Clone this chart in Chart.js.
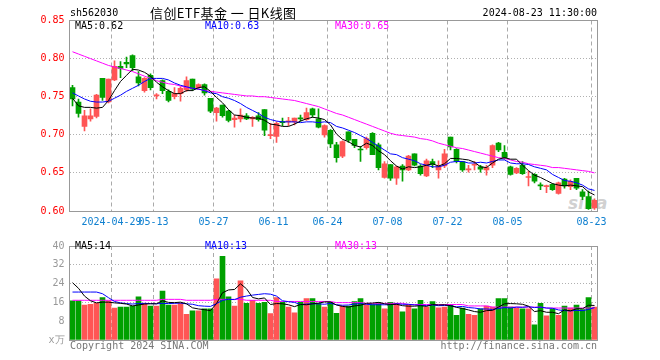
<!DOCTYPE html>
<html><head><meta charset="utf-8">
<script src="https://cdn.jsdelivr.net/npm/chart.js@4.4.1/dist/chart.umd.min.js"></script>
<style>
body{margin:0;background:#fff;width:660px;height:360px;position:relative;overflow:hidden;font-family:'DejaVu Sans Mono',monospace;}
.t{position:absolute;font-size:10px;line-height:12px;white-space:pre;}
canvas{position:absolute;left:0;}
</style></head><body>
<div class="t" style="left:568px;top:193px;font-family:'DejaVu Sans';font-weight:bold;font-style:italic;font-size:17px;line-height:20px;color:rgba(150,150,150,0.45);">sina</div>
<canvas id="pc" width="660" height="235" style="top:0"></canvas>
<canvas id="vc" width="660" height="125" style="top:235px"></canvas>
<div class="t" style="left:70px;top:7px;color:#000;">sh562030</div>
<div class="t" style="left:150px;top:4px;font-family:'Noto Sans CJK SC';font-size:13px;line-height:18px;letter-spacing:0.4px;color:#000;">信创ETF基金 一 日K线图</div>
<div class="t" style="right:63px;top:7px;color:#000;">2024-08-23 11:30:00</div>
<div class="t" id="l1" style="left:75px;top:20px;color:#000;"></div>
<div class="t" id="l2" style="left:205px;top:20px;color:#0000ff;"></div>
<div class="t" id="l3" style="left:335px;top:20px;color:#ff00ff;"></div>
<div class="t" id="v1" style="left:75px;top:240px;color:#000;"></div>
<div class="t" id="v2" style="left:205px;top:240px;color:#0000ff;"></div>
<div class="t" id="v3" style="left:335px;top:240px;color:#ff00ff;"></div>
<div class="t" style="left:70px;top:340px;color:#777;">Copyright 2024 SINA.COM</div>
<div class="t" style="right:63px;top:340px;color:#777;">http://finance.sina.com.cn</div>
<script>
const dates = [
'2024-04-18','2024-04-19','2024-04-22','2024-04-23','2024-04-24','2024-04-25','2024-04-26','2024-04-29','2024-04-30',
'2024-05-06','2024-05-07','2024-05-08','2024-05-09','2024-05-10','2024-05-13','2024-05-14','2024-05-15','2024-05-16','2024-05-17',
'2024-05-20','2024-05-21','2024-05-22','2024-05-23','2024-05-24','2024-05-27','2024-05-28','2024-05-29','2024-05-30','2024-05-31',
'2024-06-03','2024-06-04','2024-06-05','2024-06-06','2024-06-07','2024-06-11','2024-06-12','2024-06-13','2024-06-14',
'2024-06-17','2024-06-18','2024-06-19','2024-06-20','2024-06-21','2024-06-24','2024-06-25','2024-06-26','2024-06-27','2024-06-28',
'2024-07-01','2024-07-02','2024-07-03','2024-07-04','2024-07-05','2024-07-08','2024-07-09','2024-07-10','2024-07-11','2024-07-12',
'2024-07-15','2024-07-16','2024-07-17','2024-07-18','2024-07-19','2024-07-22','2024-07-23','2024-07-24','2024-07-25','2024-07-26',
'2024-07-29','2024-07-30','2024-07-31','2024-08-01','2024-08-02','2024-08-05','2024-08-06','2024-08-07','2024-08-08','2024-08-09',
'2024-08-12','2024-08-13','2024-08-14','2024-08-15','2024-08-16','2024-08-19','2024-08-20','2024-08-21','2024-08-22','2024-08-23'];
const tickDates = ['2024-04-29','2024-05-13','2024-05-27','2024-06-11','2024-06-24','2024-07-08','2024-07-22','2024-08-05','2024-08-23'];
const tickLabels = ['2024-04-29','05-13','05-27','06-11','06-24','07-08','07-22','08-05','08-23'];
const priceTicks = [0.60,0.65,0.70,0.75,0.80,0.85];
const volumeTicks = [0,8,16,24,32,40];

const open = [.762,.743,.711,.721,.724,.774,.743,.772,.790,.795,
 .804,.776,.758,.778,.751,.771,.757,.750,.754,.759,
 .773,.762,.766,.748,.729,.739,.731,.720,.721,.725,
 .721,.725,.733,.699,.698,.717,.717,.717,.722,.720,
 .734,.721,.700,.706,.687,.672,.704,.694,.681,.683,
 .702,.687,.644,.661,.643,.659,.654,.675,.659,.646,
 .665,.654,.659,.697,.681,.665,.654,.660,.658,.654,
 .660,.689,.677,.658,.650,.660,.644,.648,.634,.632,
 .635,.623,.642,.632,.643,.625,.619,.604];
const high = [.765,.747,.732,.734,.753,.774,.773,.797,.796,.802,
 .805,.783,.775,.780,.754,.772,.759,.762,.763,.776,
 .773,.767,.767,.748,.736,.739,.732,.726,.734,.728,
 .724,.729,.733,.715,.717,.722,.723,.722,.726,.735,
 .735,.734,.713,.707,.690,.692,.704,.694,.685,.697,
 .703,.689,.665,.661,.659,.661,.673,.675,.661,.668,
 .668,.666,.681,.697,.682,.665,.660,.665,.660,.660,
 .687,.690,.686,.659,.657,.665,.652,.649,.637,.634,
 .636,.638,.643,.641,.643,.628,.626,.616];
const low = [.738,.723,.705,.718,.722,.745,.742,.771,.775,.788,
 .784,.764,.756,.759,.747,.754,.743,.747,.744,.757,
 .758,.760,.752,.729,.718,.723,.717,.710,.717,.720,
 .711,.718,.699,.695,.690,.712,.712,.713,.718,.719,
 .723,.709,.697,.683,.664,.670,.690,.683,.665,.681,
 .674,.654,.643,.640,.635,.639,.653,.659,.647,.645,
 .657,.643,.657,.680,.663,.652,.651,.654,.651,.647,
 .657,.678,.668,.647,.649,.648,.633,.637,.628,.624,
 .627,.622,.630,.628,.628,.615,.602,.602];
const close = [.747,.728,.725,.725,.752,.749,.773,.790,.787,.793,
 .788,.768,.774,.762,.752,.758,.745,.754,.761,.771,
 .760,.766,.755,.731,.735,.725,.719,.722,.726,.721,
 .723,.720,.706,.700,.715,.716,.718,.722,.721,.729,
 .726,.710,.712,.688,.670,.691,.693,.686,.680,.695,
 .674,.657,.662,.643,.658,.654,.672,.660,.649,.666,
 .661,.659,.675,.684,.665,.654,.655,.661,.655,.657,
 .686,.680,.670,.648,.656,.649,.645,.639,.633,.633,
 .628,.637,.633,.639,.630,.619,.603,.614];
const ma5 = [.748,.738,.736,.736,.735,.736,.745,.758,.770,.778,
 .786,.785,.782,.777,.769,.763,.758,.754,.754,.758,
 .758,.762,.763,.757,.749,.742,.733,.726,.725,.723,
 .722,.722,.719,.714,.713,.711,.711,.714,.718,.721,
 .723,.722,.720,.713,.701,.694,.691,.686,.684,.689,
 .686,.679,.674,.666,.659,.655,.658,.657,.658,.660,
 .662,.659,.662,.669,.669,.668,.667,.664,.658,.657,
 .663,.668,.670,.668,.668,.660,.653,.647,.644,.640,
 .636,.634,.633,.634,.633,.632,.625,.621];
const ma10 = [.755,.751,.747,.744,.743,.743,.744,.748,.752,.757,
 .761,.765,.770,.774,.774,.774,.772,.768,.765,.763,
 .761,.760,.758,.755,.754,.750,.748,.745,.741,.736,
 .732,.728,.723,.720,.718,.717,.717,.717,.716,.717,
 .717,.716,.717,.716,.711,.709,.706,.703,.699,.695,
 .690,.685,.680,.675,.674,.670,.668,.666,.662,.660,
 .658,.658,.660,.664,.665,.665,.663,.663,.664,.663,
 .665,.667,.667,.663,.662,.662,.661,.658,.656,.654,
 .648,.644,.640,.639,.637,.634,.629,.627];
const ma30 = [.809,.806,.803,.800,.797,.794,.791,.789,.787,.785,
 .783,.780,.777,.774,.771,.769,.767,.766,.764,.762,
 .761,.760,.758,.757,.756,.755,.754,.753,.752,.751,
 .751,.750,.750,.749,.748,.747,.746,.745,.743,.741,
 .739,.737,.734,.731,.728,.726,.723,.720,.717,.714,
 .711,.708,.705,.702,.700,.699,.698,.697,.695,.694,
 .692,.689,.687,.685,.683,.682,.680,.678,.676,.674,
 .672,.670,.669,.667,.665,.664,.662,.661,.660,.659,
 .657,.657,.656,.655,.654,.653,.652,.650];
const volume = [16.7,16.7,14.9,15.2,15.6,18.0,16.7,13.6,14.0,14.0,
 14.4,18.4,15.6,14.4,14.4,20.8,14.9,14.9,15.6,10.9,
 12.4,12.4,13.3,13.3,26.0,35.6,18.4,14.4,25.2,15.6,
 16.9,15.6,16.0,11.2,18.0,16.0,14.0,11.6,16.0,17.6,
 17.6,15.6,14.0,16.0,11.3,14.4,14.4,16.4,17.6,15.1,
 15.1,16.0,13.3,16.0,15.6,12.0,15.1,13.3,16.9,14.0,
 16.4,13.7,14.0,15.1,10.5,13.6,10.9,10.5,13.3,14.4,
 14.0,17.6,17.6,14.0,13.6,13.3,13.3,6.5,15.6,10.3,
 13.3,10.5,14.4,13.6,14.9,12.9,18.0,14.0];
const volMa5 = [24.4,22.0,18.7,16.7,15.8,16.1,16.1,15.8,15.6,15.3,
 14.5,14.9,15.3,15.4,15.4,16.7,16.0,15.9,16.1,15.4,
 13.7,13.2,12.9,12.5,15.5,20.1,21.3,21.5,23.9,21.8,
 18.1,17.5,17.9,15.1,15.5,15.4,15.0,14.2,15.1,15.0,
 15.4,15.7,16.2,16.2,14.9,14.3,14.0,14.5,14.8,15.6,
 15.7,16.0,15.4,15.1,15.2,14.6,14.4,14.4,14.6,14.3,
 15.1,14.9,15.0,14.6,13.9,13.4,12.8,12.1,11.8,12.5,
 12.6,14.0,15.4,15.5,15.4,15.2,14.4,12.1,12.5,11.8,
 11.8,11.2,12.8,12.4,13.3,13.3,14.8,14.7];
const volMa10 = [20.4,20.4,20.4,20.4,20.4,19.7,18.0,16.4,15.8,15.5,
 15.3,15.5,15.6,15.5,15.4,15.6,15.5,15.6,15.7,15.4,
 15.2,14.6,14.4,14.3,15.5,16.9,17.3,17.2,18.2,18.7,
 19.1,19.4,19.7,19.5,18.7,16.7,16.3,16.0,15.1,15.3,
 15.4,15.4,15.2,15.6,15.0,14.8,14.9,15.3,15.5,15.2,
 15.0,15.0,15.0,15.0,15.4,15.2,15.2,14.9,14.8,14.7,
 14.9,14.6,14.7,14.6,14.1,14.3,13.8,13.6,13.2,13.2,
 13.0,13.4,13.8,13.6,14.0,13.9,14.2,13.8,14.0,13.6,
 13.5,12.8,12.5,12.4,12.6,12.5,13.0,13.8];
const volMa30 = [16.9,16.9,16.9,16.9,16.9,16.9,16.9,16.9,16.9,16.9,
 16.9,16.9,16.9,16.9,16.9,17.3,17.3,17.3,17.3,16.9,
 16.9,16.9,16.9,16.9,17.3,17.3,17.3,17.3,17.3,16.9,
 16.9,16.9,16.9,16.9,16.4,16.4,16.4,16.4,16.4,16.4,
 16.4,16.4,16.4,16.4,15.9,15.9,15.9,15.9,15.9,15.6,
 15.6,15.6,15.6,15.6,15.6,15.6,15.1,15.1,15.1,15.1,
 15.1,15.1,15.1,15.1,15.1,15.1,14.5,14.5,14.5,14.5,
 14.0,14.0,14.0,14.0,14.0,14.0,14.0,14.0,14.0,13.6,
 13.6,13.6,13.6,13.6,13.6,13.6,13.6,13.6];

const UP = '#ff5555', DOWN = '#00a000';
const mono = "'DejaVu Sans Mono', monospace";
const candleColor = close.map((c, i) => c > open[i] ? UP : DOWN);
const tickIdx = tickDates.map(d => dates.indexOf(d));
const last = a => a[a.length - 1];

document.getElementById('l1').textContent = 'MA5:' + last(ma5).toFixed(2);
document.getElementById('l2').textContent = 'MA10:' + last(ma10).toFixed(2);
document.getElementById('l3').textContent = 'MA30:' + last(ma30).toFixed(2);
document.getElementById('v1').textContent = 'MA5:' + Math.floor(last(volMa5));
document.getElementById('v2').textContent = 'MA10:' + Math.floor(last(volMa10));
document.getElementById('v3').textContent = 'MA30:' + Math.floor(last(volMa30));

const frame = {
  id: 'frame',
  afterDraw(chart) {
    const { ctx, chartArea: a } = chart;
    const L = Math.floor(a.left) + 0.5, T = Math.floor(a.top) + 0.5;
    const R = Math.floor(a.right) + 0.5, B = Math.floor(a.bottom) + 0.5;
    ctx.save();
    ctx.strokeStyle = '#999';
    ctx.lineWidth = 1;
    ctx.strokeRect(L, T, R - L, B - T);
    ctx.restore();
  }
};

const gridX = c => (c.tick && tickIdx.includes(c.index)) ? '#aaa' : 'rgba(0,0,0,0)';

function lineDs(data, color) {
  return { type: 'line', data, borderColor: color, borderWidth: 1, pointRadius: 0, tension: 0, fill: false, order: 0 };
}

const common = {
  responsive: false, animation: false, devicePixelRatio: 1, events: [],
  plugins: { legend: { display: false }, tooltip: { enabled: false } }
};

new Chart(document.getElementById('pc'), {
  type: 'bar',
  data: {
    labels: dates,
    datasets: [
      lineDs(ma5, '#000000'),
      lineDs(ma10, '#0000ff'),
      lineDs(ma30, '#ff00ff'),
      { data: open.map((o, i) => [o, close[i]]), backgroundColor: candleColor, barThickness: 5, grouped: false, borderWidth: 0, minBarLength: 1, order: 1 },
      { data: low.map((l, i) => [l, high[i]]), backgroundColor: candleColor, barThickness: 1, grouped: false, borderWidth: 0, order: 2 }
    ]
  },
  options: Object.assign({}, common, {
    layout: { padding: { top: 20.5, right: 62.5, bottom: 0, left: 0 } },
    scales: {
      x: {
        type: 'category', offset: true,
        afterFit(s) { s.height = 24; },
        ticks: { autoSkip: false, maxRotation: 0, minRotation: 0, color: '#1080d0', font: { family: mono, size: 10 }, padding: 5, labelOffset: -3,
          callback(v, i) { const k = tickIdx.indexOf(i); return k >= 0 ? tickLabels[k] : ''; } },
        grid: { offset: true, drawTicks: false, color: gridX },
        border: { color: '#999', dash: [4, 3] }
      },
      y: {
        min: 0.60, max: 0.85,
        afterFit(s) { s.width = 69.5; },
        afterBuildTicks(s) { s.ticks = priceTicks.map(v => ({ value: v })); },
        ticks: { color: '#ff0000', font: { family: mono, size: 10 }, padding: 5, callback: v => Number(v).toFixed(2) },
        grid: { color: '#b0b0b0', drawTicks: false },
        border: { color: '#999', dash: [1, 2] }
      }
    }
  }),
  plugins: [frame]
});

new Chart(document.getElementById('vc'), {
  type: 'bar',
  data: {
    labels: dates,
    datasets: [
      lineDs(volMa5, '#000000'),
      lineDs(volMa10, '#0000ff'),
      lineDs(volMa30, '#ff00ff'),
      { data: volume, backgroundColor: candleColor, barThickness: 5, grouped: false, borderWidth: 0, order: 1 }
    ]
  },
  options: Object.assign({}, common, {
    layout: { padding: { top: 5.5, right: 62.5, bottom: 0, left: 0 } },
    scales: {
      x: {
        type: 'category', offset: true,
        afterFit(s) { s.height = 20; },
        ticks: { display: false, autoSkip: false },
        grid: { offset: true, drawTicks: false, color: gridX },
        border: { color: '#999', dash: [4, 3] }
      },
      y: {
        min: 0, max: 40,
        afterFit(s) { s.width = 69.5; },
        afterBuildTicks(s) { s.ticks = volumeTicks.map(v => ({ value: v })); },
        ticks: { color: '#999', font: { family: mono, size: 10 }, padding: 5, callback: v => v === 0 ? 'x万' : String(v) },
        grid: { color: '#b0b0b0', drawTicks: false },
        border: { color: '#999', dash: [1, 2] }
      }
    }
  }),
  plugins: [frame]
});
</script>
</body></html>
